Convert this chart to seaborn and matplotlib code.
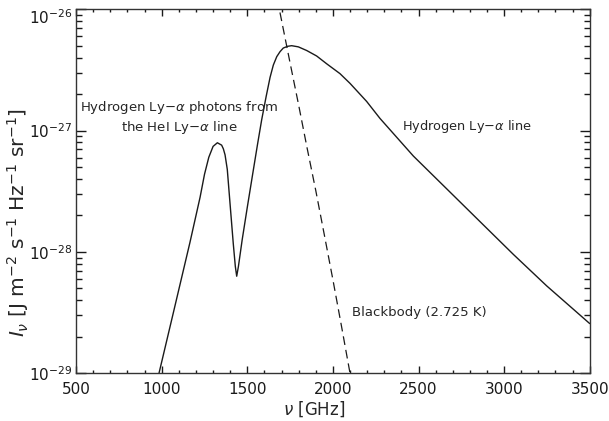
import matplotlib
matplotlib.use("Agg")
import matplotlib.pyplot as plt
from matplotlib.ticker import LogLocator, MultipleLocator, NullFormatter
from matplotlib.transforms import ScaledTranslation
import numpy as np
import pandas as pd
import seaborn as sns

# total spectrum (solid line)
nu_line = [984, 1068, 1165, 1224, 1250, 1275, 1300, 1325, 1350, 1360, 1370,
           1383, 1399, 1418, 1430, 1438, 1448, 1470, 1500, 1530, 1560, 1584,
           1610, 1633, 1652, 1672, 1691, 1710, 1735, 1759, 1798, 1847, 1905,
           1964, 2041, 2100, 2197, 2275, 2470, 2665, 2859, 3054, 3249, 3500]
i_line = [1.0e-29, 3.16e-29, 1.2e-28, 2.82e-28, 4.37e-28, 6.03e-28, 7.41e-28,
          7.94e-28, 7.59e-28, 7.08e-28, 6.31e-28, 4.79e-28, 2.51e-28, 1.17e-28,
          7.59e-29, 6.31e-29, 7.59e-29, 1.26e-28, 2.34e-28, 4.27e-28, 7.76e-28,
          1.23e-27, 1.91e-27, 2.75e-27, 3.47e-27, 4.07e-27, 4.47e-27, 4.79e-27,
          4.95e-27, 5.01e-27, 4.9e-27, 4.57e-27, 4.12e-27, 3.55e-27, 2.95e-27,
          2.45e-27, 1.74e-27, 1.26e-27, 6.17e-28, 3.31e-28, 1.78e-28, 9.55e-29,
          5.25e-29, 2.57e-29]

# blackbody (dashed line)
nu_bb = [1660, 1687, 1750, 1800, 1850, 1900, 1950, 2000, 2050, 2100, 2120]
i_bb = [1.55e-26, 1.0e-26, 3.6e-27, 1.62e-27, 7.1e-28, 3.2e-28, 1.38e-28,
        5.9e-29, 2.45e-29, 1.0e-29, 7.1e-30]

df_line = pd.DataFrame({"nu": nu_line, "I": i_line})
df_bb = pd.DataFrame({"nu": nu_bb, "I": i_bb})

sns.set_theme(style="ticks")
plt.rcParams['font.family'] = ['DejaVu Sans']
plt.rcParams['mathtext.fontset'] = 'dejavusans'

fig = plt.figure(figsize=(6.09, 4.21), dpi=100)
ax = fig.add_axes([0.125, 0.1133, 0.8433, 0.8647])

sns.lineplot(data=df_line, x="nu", y="I", ax=ax, color="k", lw=1.0,
             estimator=None, sort=False)
sns.lineplot(data=df_bb, x="nu", y="I", ax=ax, color="k", lw=0.9,
             estimator=None, sort=False)
ax.lines[-1].set_dashes([7, 4])

ax.set_yscale("log")
ax.set_xlim(500, 3500)
ax.set_ylim(1e-29, 1e-26)
ax.xaxis.set_major_locator(MultipleLocator(500))
ax.xaxis.set_minor_locator(MultipleLocator(100))
ax.yaxis.set_major_locator(LogLocator(base=10, numticks=10))
ax.yaxis.set_minor_locator(LogLocator(base=10, subs=np.arange(2, 10), numticks=10))
ax.yaxis.set_minor_formatter(NullFormatter())

ax.tick_params(which="both", direction="in", top=True, right=True,
               color="k", labelcolor="k", labelsize=11, width=1.0)
ax.tick_params(axis="x", which="major", length=5, pad=6)
ax.tick_params(axis="x", which="minor", length=2.5)
ax.tick_params(axis="y", which="major", length=7, pad=3)
ax.tick_params(axis="y", which="minor", length=4)
for s in ax.spines.values():
    s.set_linewidth(1.0)
    s.set_color("#333333")

ax.set_xlabel(r"$\nu$ [GHz]", fontsize=12)
ax.xaxis.set_label_coords(0.463, -0.071)
ax.set_ylabel(r"$I_\nu$ [J m$^{-2}$ s$^{-1}$ Hz$^{-1}$ sr$^{-1}$]", fontsize=14.5)
ax.yaxis.set_label_coords(-0.088, 0.413)

ax.text(1101, 1.28e-27, "Hydrogen Ly$-\\alpha$ photons from\nthe HeI Ly$-\\alpha$ line",
        ha="center", va="center", fontsize=9.5, linespacing=1.25)
ax.text(2780, 1.09e-27, "Hydrogen Ly$-\\alpha$ line", ha="center", va="center",
        fontsize=9.3)
ax.text(2503, 3.2e-29, "Blackbody (2.725 K)", ha="center", va="center",
        fontsize=9.5)

# nudge the top y label down so it stays inside the figure
fig.canvas.draw()
for tick in ax.yaxis.get_major_ticks():
    if abs(np.log10(tick.get_loc()) + 26) < 0.01:
        tick.label1.set_transform(tick.label1.get_transform()
                                  + ScaledTranslation(0, -5 / 72, fig.dpi_scale_trans))

fig.savefig("out.png", dpi=100)
